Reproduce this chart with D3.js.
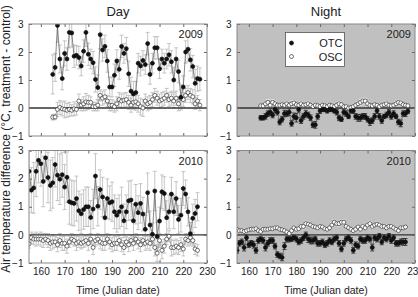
<!DOCTYPE html>
<html>
<head>
<meta charset="utf-8">
<script src="https://cdn.jsdelivr.net/npm/d3@7"></script>
<style>
  body { margin: 0; background: #fff; }
  svg { display: block; font-family: "Liberation Sans", Arial, sans-serif; }
</style>
</head>
<body>
<svg id="chart" width="418" height="297"></svg>
<script>
// ---- data ----
const days2009 = d3.range(165, 228);   // 63 days
const days2010 = d3.range(155, 227);   // 72 days
const xTicks = [160, 170, 180, 190, 200, 210, 220, 230];
const yTicks = [-1, 0, 1, 2, 3];

// Day 2009
const dayOtc2009 = [
  1.20, 1.45, 2.95, 1.75, 1.05, 1.95, 1.75, 2.70, 2.68, 1.85,
  1.88, 1.80, 1.50, 2.03, 2.70, 1.92, 1.75, 1.62, 1.02, 0.73,
  2.62, 2.07, 2.20, 1.68, 0.75, 0.75, 1.17, 1.68, 1.38, 2.20,
  1.95, 2.12, 1.22, 0.60, 0.50, 0.55, 1.60, 1.50, 1.70, 1.55,
  2.30, 1.20, 1.60, 2.15, 2.15, 1.40, 1.75, 1.60, 1.75, 1.90,
  1.65, 1.00, 1.75, 1.30, 0.38, 0.75, 2.00, 2.10, 1.72, 1.48,
  0.88, 1.05, 1.03
];
const dayOtc2009Err = [
  0.70, 0.50, 0.60, 0.50, 0.40, 0.45, 0.40, 0.55, 0.50, 0.40,
  0.35, 0.40, 0.35, 0.40, 0.50, 0.40, 0.35, 0.40, 0.45, 0.45,
  0.50, 0.40, 0.40, 0.40, 0.35, 0.35, 0.40, 0.40, 0.35, 0.40,
  0.35, 0.40, 0.45, 0.50, 0.45, 0.40, 0.35, 0.35, 0.35, 0.35,
  0.40, 0.35, 0.35, 0.40, 0.40, 0.35, 0.35, 0.35, 0.35, 0.40,
  0.40, 0.45, 0.40, 0.40, 0.45, 0.40, 0.40, 0.45, 0.40, 0.40,
  0.50, 0.45, 0.40
];
const dayOsc2009 = [
  -0.33, -0.32, -0.05, 0.02, -0.03, -0.05, -0.08, -0.05, -0.08, -0.03,
  -0.05, 0.25, 0.10, 0.15, 0.22, 0.20, 0.20, 0.05, 0.05, 0.10,
  0.45, 0.35, 0.40, 0.25, 0.10, 0.10, 0.05, 0.15, 0.30, 0.25,
  0.28, 0.30, 0.20, 0.10, 0.20, 0.22, 0.15, 0.05, 0.00, 0.25,
  0.15, 0.20, 0.30, 0.45, 0.35, 0.25, 0.30, 0.35, 0.45, 0.30,
  0.35, 0.25, 0.35, 0.15, 0.35, 0.30, 0.45, 0.55, 0.45, 0.40,
  0.15, 0.25, 0.10
];
const dayOsc2009Err = [
  0.10, 0.10, 0.25, 0.25, 0.25, 0.30, 0.25, 0.25, 0.20, 0.25,
  0.20, 0.25, 0.20, 0.25, 0.30, 0.25, 0.20, 0.15, 0.15, 0.20,
  0.20, 0.25, 0.25, 0.20, 0.20, 0.20, 0.20, 0.25, 0.25, 0.25,
  0.25, 0.25, 0.25, 0.25, 0.25, 0.30, 0.30, 0.30, 0.30, 0.25,
  0.25, 0.25, 0.25, 0.25, 0.25, 0.25, 0.25, 0.25, 0.25, 0.25,
  0.25, 0.25, 0.25, 0.25, 0.30, 0.25, 0.25, 0.25, 0.25, 0.25,
  0.20, 0.20, 0.20
];

// Night 2009
const nightOtc2009 = [
  -0.35, -0.35, -0.30, -0.20, -0.15, -0.25, -0.05, -0.15, -0.50, -0.40,
  -0.20, -0.20, -0.15, -0.55, -0.30, -0.35, -0.05, -0.45, -0.30, -0.20,
  -0.25, -0.35, -0.60, -0.60, -0.30, -0.10, -0.05, -0.05, -0.10, -0.05,
  -0.05, -0.10, -0.15, -0.35, -0.40, -0.15, -0.20, -0.30, -0.10, -0.10,
  -0.30, -0.35, -0.35, -0.30, -0.30, -0.40, -0.50, -0.45, -0.30, -0.10,
  -0.30, -0.45, -0.30, -0.25, -0.15, -0.30, -0.20, -0.30, -0.50, -0.55,
  -0.20, -0.20, -0.12
];
const nightOtc2009Err = [
  0.08, 0.08, 0.10, 0.10, 0.12, 0.10, 0.12, 0.10, 0.10, 0.10,
  0.12, 0.10, 0.12, 0.10, 0.12, 0.15, 0.10, 0.10, 0.10, 0.12,
  0.10, 0.10, 0.10, 0.12, 0.10, 0.10, 0.08, 0.08, 0.08, 0.08,
  0.08, 0.08, 0.10, 0.10, 0.08, 0.10, 0.10, 0.08, 0.08, 0.10,
  0.10, 0.12, 0.12, 0.10, 0.10, 0.10, 0.12, 0.10, 0.10, 0.10,
  0.10, 0.10, 0.08, 0.10, 0.10, 0.10, 0.10, 0.08, 0.10, 0.12,
  0.10, 0.10, 0.08
];
const nightOsc2009 = [
  0.08, 0.08, 0.15, 0.20, 0.10, 0.20, 0.15, 0.10, 0.10, 0.12,
  0.10, 0.15, 0.10, 0.15, 0.18, 0.12, 0.10, 0.15, 0.10, 0.12,
  0.15, 0.10, 0.05, 0.10, 0.08, 0.05, 0.10, 0.08, 0.05, 0.10,
  0.08, 0.05, 0.10, 0.15, 0.12, 0.05, 0.05, 0.00, 0.02, 0.05,
  0.10, 0.15, 0.20, 0.25, 0.25, 0.15, 0.10, 0.08, 0.12, 0.10,
  0.05, 0.10, 0.12, 0.15, 0.10, 0.08, 0.10, 0.15, 0.20, 0.18,
  0.12, 0.10, 0.08
];
const nightOsc2009Err = [
  0.05, 0.05, 0.08, 0.10, 0.06, 0.10, 0.08, 0.06, 0.06, 0.06,
  0.06, 0.08, 0.06, 0.10, 0.08, 0.06, 0.06, 0.08, 0.06, 0.06,
  0.08, 0.06, 0.05, 0.06, 0.05, 0.05, 0.06, 0.05, 0.05, 0.06,
  0.05, 0.05, 0.06, 0.08, 0.06, 0.05, 0.05, 0.05, 0.05, 0.05,
  0.06, 0.08, 0.10, 0.10, 0.10, 0.08, 0.06, 0.05, 0.06, 0.06,
  0.05, 0.06, 0.06, 0.08, 0.06, 0.05, 0.06, 0.08, 0.08, 0.08,
  0.06, 0.06, 0.05
];

// Day 2010
const dayOtc2010 = [
  2.26, 1.59, 1.67, 2.26, 2.65, 2.53, 1.90, 2.74, 2.04, 1.76,
  1.85, 2.50, 2.12, 1.98, 2.14, 1.70, 2.05, 1.18, 1.14, 1.12,
  1.29, 0.86, 0.75, 0.90, 1.00, 1.00, 0.62, 0.92, 2.09, 1.02,
  1.61, 1.35, 0.61, 1.29, 1.14, 1.18, 0.82, 0.70, 0.82, 1.00,
  0.50, 0.82, 1.21, 1.24, 0.50, 1.09, 0.79, 1.12, 0.74, 0.20,
  1.50, 0.35, 0.02, 1.56, -0.06, 0.49, 1.53, 1.47, 0.61, 0.82,
  1.45, 0.82, 1.29, 0.55, 0.70, 1.65, 1.45, 0.82, 0.04, 0.59,
  0.76, 1.00
];
const dayOtc2010Err = [
  0.70, 0.80, 0.90, 0.90, 0.80, 0.80, 0.90, 0.80, 0.90, 0.90,
  0.90, 0.80, 0.90, 0.90, 0.80, 0.80, 0.90, 0.80, 0.80, 0.80,
  0.80, 0.70, 0.70, 0.70, 0.70, 0.70, 0.60, 0.70, 0.80, 0.70,
  0.70, 0.70, 0.60, 0.70, 0.60, 0.70, 0.60, 0.60, 0.60, 0.70,
  0.60, 0.60, 0.70, 0.70, 0.60, 0.70, 0.60, 0.70, 0.60, 0.50,
  0.70, 0.50, 0.40, 0.70, 0.50, 0.50, 0.60, 0.60, 0.60, 0.60,
  0.60, 0.60, 0.60, 0.50, 0.60, 0.60, 0.50, 0.50, 0.40, 0.50,
  0.50, 0.50
];
const dayOsc2010 = [
  -0.32, -0.10, -0.15, -0.15, -0.15, -0.15, -0.20, -0.15, -0.20, -0.30,
  -0.25, -0.25, -0.35, -0.20, -0.30, -0.30, -0.40, -0.25, -0.15, -0.20,
  -0.30, -0.25, -0.30, -0.25, -0.20, -0.30, -0.15, -0.45, -0.20, -0.15,
  -0.25, -0.30, -0.30, -0.15, -0.25, -0.35, -0.30, -0.30, -0.20, -0.35,
  -0.45, -0.25, -0.35, -0.20, -0.30, -0.15, -0.25, -0.35, -0.20, -0.30,
  -0.25, -0.30, -0.15, -0.45, -0.65, -0.20, -0.55, -0.40, -0.15, -0.05,
  -0.45, -0.45, -0.40, -0.45, -0.35, -0.50, -0.15, -0.20, -0.10, -0.20,
  -0.50, -0.55
];
const dayOsc2010Err = [
  0.15, 0.20, 0.20, 0.25, 0.20, 0.25, 0.25, 0.20, 0.25, 0.25,
  0.25, 0.20, 0.25, 0.25, 0.25, 0.25, 0.25, 0.20, 0.20, 0.20,
  0.25, 0.20, 0.20, 0.20, 0.20, 0.25, 0.20, 0.25, 0.20, 0.20,
  0.25, 0.25, 0.25, 0.20, 0.25, 0.25, 0.25, 0.25, 0.20, 0.25,
  0.25, 0.20, 0.25, 0.20, 0.25, 0.20, 0.25, 0.25, 0.20, 0.25,
  0.25, 0.25, 0.20, 0.30, 0.30, 0.25, 0.30, 0.25, 0.20, 0.20,
  0.30, 0.25, 0.25, 0.25, 0.25, 0.25, 0.20, 0.20, 0.20, 0.20,
  0.20, 0.20
];

// Night 2010
const nightOtc2010 = [
  -0.55, -0.30, -0.25, -0.45, -0.10, -0.35, -0.30, -0.35, -0.55, -0.20,
  -0.15, -0.20, -0.45, -0.30, -0.20, -0.20, -0.40, -0.70, -0.75, -0.80,
  -0.40, -0.15, -0.15, -0.15, -0.10, -0.15, -0.25, -0.20, -0.10, 0.00,
  -0.15, -0.20, -0.20, -0.15, -0.30, -0.30, -0.25, -0.35, -0.30, -0.20,
  -0.25, -0.15, -0.10, -0.30, -0.50, -0.30, -0.15, -0.10, -0.20, -0.55,
  -0.35, -0.40, -0.15, -0.20, -0.20, -0.10, -0.15, -0.45, -0.10, -0.15,
  -0.05, -0.25, -0.10, -0.15, -0.05, -0.20, -0.10, -0.30, -0.30, -0.25,
  -0.25, -0.25
];
const nightOtc2010Err = [
  0.10, 0.10, 0.10, 0.12, 0.10, 0.10, 0.10, 0.12, 0.10, 0.10,
  0.10, 0.10, 0.12, 0.10, 0.10, 0.10, 0.10, 0.10, 0.10, 0.12,
  0.12, 0.10, 0.10, 0.08, 0.08, 0.10, 0.10, 0.10, 0.10, 0.10,
  0.12, 0.12, 0.12, 0.10, 0.10, 0.10, 0.10, 0.10, 0.10, 0.10,
  0.10, 0.10, 0.10, 0.10, 0.10, 0.10, 0.10, 0.10, 0.10, 0.10,
  0.10, 0.10, 0.10, 0.10, 0.10, 0.10, 0.10, 0.12, 0.10, 0.10,
  0.10, 0.10, 0.10, 0.10, 0.10, 0.10, 0.10, 0.10, 0.10, 0.10,
  0.12, 0.12
];
const nightOsc2010 = [
  0.20, 0.15, 0.15, 0.12, 0.15, 0.18, 0.20, 0.20, 0.22, 0.15,
  0.12, 0.20, 0.20, 0.20, 0.22, 0.22, 0.25, 0.25, 0.20, 0.18,
  0.15, 0.10, 0.05, 0.15, 0.25, 0.20, 0.22, 0.30, 0.30, 0.40,
  0.38, 0.35, 0.30, 0.28, 0.25, 0.30, 0.28, 0.22, 0.20, 0.25,
  0.35, 0.45, 0.40, 0.40, 0.45, 0.45, 0.30, 0.25, 0.20, 0.15,
  0.20, 0.28, 0.20, 0.30, 0.25, 0.35, 0.40, 0.30, 0.35, 0.38,
  0.35, 0.30, 0.30, 0.25, 0.30, 0.30, 0.25, 0.20, 0.15, 0.25,
  0.25, 0.28
];
const nightOsc2010Err = [
  0.06, 0.06, 0.05, 0.05, 0.06, 0.06, 0.06, 0.06, 0.06, 0.05,
  0.05, 0.06, 0.06, 0.06, 0.06, 0.06, 0.06, 0.06, 0.06, 0.05,
  0.05, 0.05, 0.05, 0.06, 0.06, 0.06, 0.06, 0.06, 0.08, 0.08,
  0.08, 0.06, 0.06, 0.06, 0.06, 0.06, 0.06, 0.06, 0.06, 0.06,
  0.08, 0.08, 0.08, 0.08, 0.08, 0.08, 0.06, 0.06, 0.06, 0.05,
  0.06, 0.06, 0.06, 0.06, 0.06, 0.08, 0.08, 0.06, 0.06, 0.08,
  0.08, 0.06, 0.06, 0.06, 0.06, 0.06, 0.06, 0.06, 0.05, 0.06,
  0.06, 0.06
];

// ---- layout ----
const svg = d3.select("#chart");
const panelW = 178;
const dotR = 2.0;

const panels = [
  { id: "d09", x: 29,  y: 24,    h: 112,   night: false, year: "2009", labels: false, days: days2009,
    otc: dayOtc2009, otcErr: dayOtc2009Err, osc: dayOsc2009, oscErr: dayOsc2009Err },
  { id: "n09", x: 237, y: 24,    h: 112,   night: true,  year: "2009", labels: false, days: days2009,
    otc: nightOtc2009, otcErr: nightOtc2009Err, osc: nightOsc2009, oscErr: nightOsc2009Err, legend: true },
  { id: "d10", x: 29,  y: 150.5, h: 112.5, night: false, year: "2010", labels: true, days: days2010,
    otc: dayOtc2010, otcErr: dayOtc2010Err, osc: dayOsc2010, oscErr: dayOsc2010Err },
  { id: "n10", x: 237, y: 150.5, h: 112.5, night: true,  year: "2010", labels: true, days: days2010,
    otc: nightOtc2010, otcErr: nightOtc2010Err, osc: nightOsc2010, oscErr: nightOsc2010Err }
];

function drawPanel(p) {
  const x = d3.scaleLinear().domain([155, 230]).range([p.x, p.x + panelW]);
  const y = d3.scaleLinear().domain([-1, 3]).range([p.y + p.h, p.y]);
  const g = svg.append("g").attr("class", "panel");

  svg.append("clipPath").attr("id", `clip-${p.id}`)
    .append("rect")
    .attr("x", p.x).attr("y", p.y).attr("width", panelW).attr("height", p.h);

  g.append("rect")
    .attr("x", p.x).attr("y", p.y).attr("width", panelW).attr("height", p.h)
    .attr("fill", p.night ? "#c0c0c0" : "#fff");

  const plot = g.append("g").attr("clip-path", `url(#clip-${p.id})`);

  const series = [
    { vals: p.otc, errs: p.otcErr, errColor: p.night ? "#222" : "#b8b8b8", lineColor: "#555", fill: "#111", stroke: "#111" },
    { vals: p.osc, errs: p.oscErr, errColor: p.night ? "#ececec" : "#b8b8b8", lineColor: "#888", fill: "#fff", stroke: "#333" }
  ];
  series.forEach(s => {
    s.pts = p.days.map((d, i) => ({ d: d, v: s.vals[i], e: s.errs[i] }));
  });

  // error bars
  series.forEach(s => {
    plot.append("g")
      .attr("fill", "none")
      .attr("stroke", s.errColor)
      .attr("stroke-width", 0.8)
      .selectAll("path")
      .data(s.pts)
      .join("path")
      .attr("d", d => {
        const cx = x(d.d), y1 = y(d.v + d.e), y2 = y(d.v - d.e);
        return `M${cx},${y1}V${y2}M${cx - 2},${y1}H${cx + 2}M${cx - 2},${y2}H${cx + 2}`;
      });
  });

  // zero line
  plot.append("line")
    .attr("x1", p.x).attr("x2", p.x + panelW)
    .attr("y1", y(0)).attr("y2", y(0))
    .attr("stroke", "#333").attr("stroke-width", 1.4);

  const line = d3.line().x(d => x(d.d)).y(d => y(d.v));

  // OSC first, OTC on top
  [series[1], series[0]].forEach(s => {
    plot.append("path")
      .datum(s.pts)
      .attr("fill", "none")
      .attr("stroke", s.lineColor)
      .attr("stroke-width", 0.7)
      .attr("d", line);
    plot.append("g")
      .selectAll("circle")
      .data(s.pts)
      .join("circle")
      .attr("cx", d => x(d.d))
      .attr("cy", d => y(d.v))
      .attr("r", dotR)
      .attr("fill", s.fill)
      .attr("stroke", s.stroke)
      .attr("stroke-width", 0.7);
  });

  // axes, ticks pointing inward
  const styleAxis = sel => {
    sel.select(".domain").remove();
    sel.selectAll(".tick line").attr("stroke", "#666");
    sel.selectAll(".tick text").attr("fill", "#222").attr("font-size", 10)
      .attr("font-family", '"Liberation Sans", Arial, sans-serif');
  };

  g.append("g")
    .attr("transform", `translate(0,${p.y + p.h})`)
    .call(d3.axisBottom(x).tickValues(xTicks).tickSizeInner(-3).tickSizeOuter(0).tickPadding(5)
      .tickFormat(p.labels ? d3.format("d") : ""))
    .call(styleAxis);
  g.append("g")
    .attr("transform", `translate(0,${p.y})`)
    .call(d3.axisTop(x).tickValues(xTicks).tickSizeInner(-3).tickSizeOuter(0).tickFormat(""))
    .call(styleAxis);
  g.append("g")
    .attr("transform", `translate(${p.x},0)`)
    .call(d3.axisLeft(y).tickValues(yTicks).tickSizeInner(-3).tickSizeOuter(0).tickPadding(5.5)
      .tickFormat(d3.format("d")))
    .call(styleAxis);
  g.append("g")
    .attr("transform", `translate(${p.x + panelW},0)`)
    .call(d3.axisRight(y).tickValues(yTicks).tickSizeInner(-3).tickSizeOuter(0).tickFormat(""))
    .call(styleAxis);

  // frame
  g.append("rect")
    .attr("x", p.x).attr("y", p.y).attr("width", panelW).attr("height", p.h)
    .attr("fill", "none").attr("stroke", "#888").attr("stroke-width", 1);

  g.append("text")
    .attr("x", p.x + panelW - 4)
    .attr("y", p.y + 14)
    .attr("text-anchor", "end")
    .attr("font-size", 11)
    .attr("fill", "#222")
    .text(p.year);

  if (p.labels) {
    g.append("text")
      .attr("x", p.x + panelW / 2)
      .attr("y", 294)
      .attr("text-anchor", "middle")
      .attr("font-size", 10.5)
      .attr("fill", "#222")
      .text("Time (Julian date)");
  }

  if (p.legend) {
    const lg = g.append("g").attr("transform", `translate(${p.x + 48.5},${p.y + 8.5})`);
    lg.append("rect").attr("width", 59).attr("height", 34)
      .attr("fill", "#fff").attr("stroke", "#555").attr("stroke-width", 0.8);
    const items = [
      { label: "OTC", fill: "#111", stroke: "#111" },
      { label: "OSC", fill: "#fff", stroke: "#333" }
    ];
    items.forEach((it, i) => {
      lg.append("circle").attr("cx", 6).attr("cy", 10.5 + i * 13.5).attr("r", dotR)
        .attr("fill", it.fill).attr("stroke", it.stroke).attr("stroke-width", 0.7);
      lg.append("text").attr("x", 57).attr("y", 14.5 + i * 13.5)
        .attr("text-anchor", "end").attr("font-size", 11).attr("fill", "#222")
        .text(it.label);
    });
  }
}

panels.forEach(drawPanel);

// column titles
svg.append("text").attr("x", 29 + panelW / 2).attr("y", 15.5)
  .attr("text-anchor", "middle").attr("font-size", 13).attr("fill", "#222").text("Day");
svg.append("text").attr("x", 237 + panelW / 2).attr("y", 15.5)
  .attr("text-anchor", "middle").attr("font-size", 13).attr("fill", "#222").text("Night");

// shared y label
svg.append("text")
  .attr("transform", "translate(9.5,139)rotate(-90)")
  .attr("text-anchor", "middle")
  .attr("font-size", 12)
  .attr("fill", "#222")
  .text("Air temperature difference (°C, treatment - control)");
</script>
</body>
</html>
